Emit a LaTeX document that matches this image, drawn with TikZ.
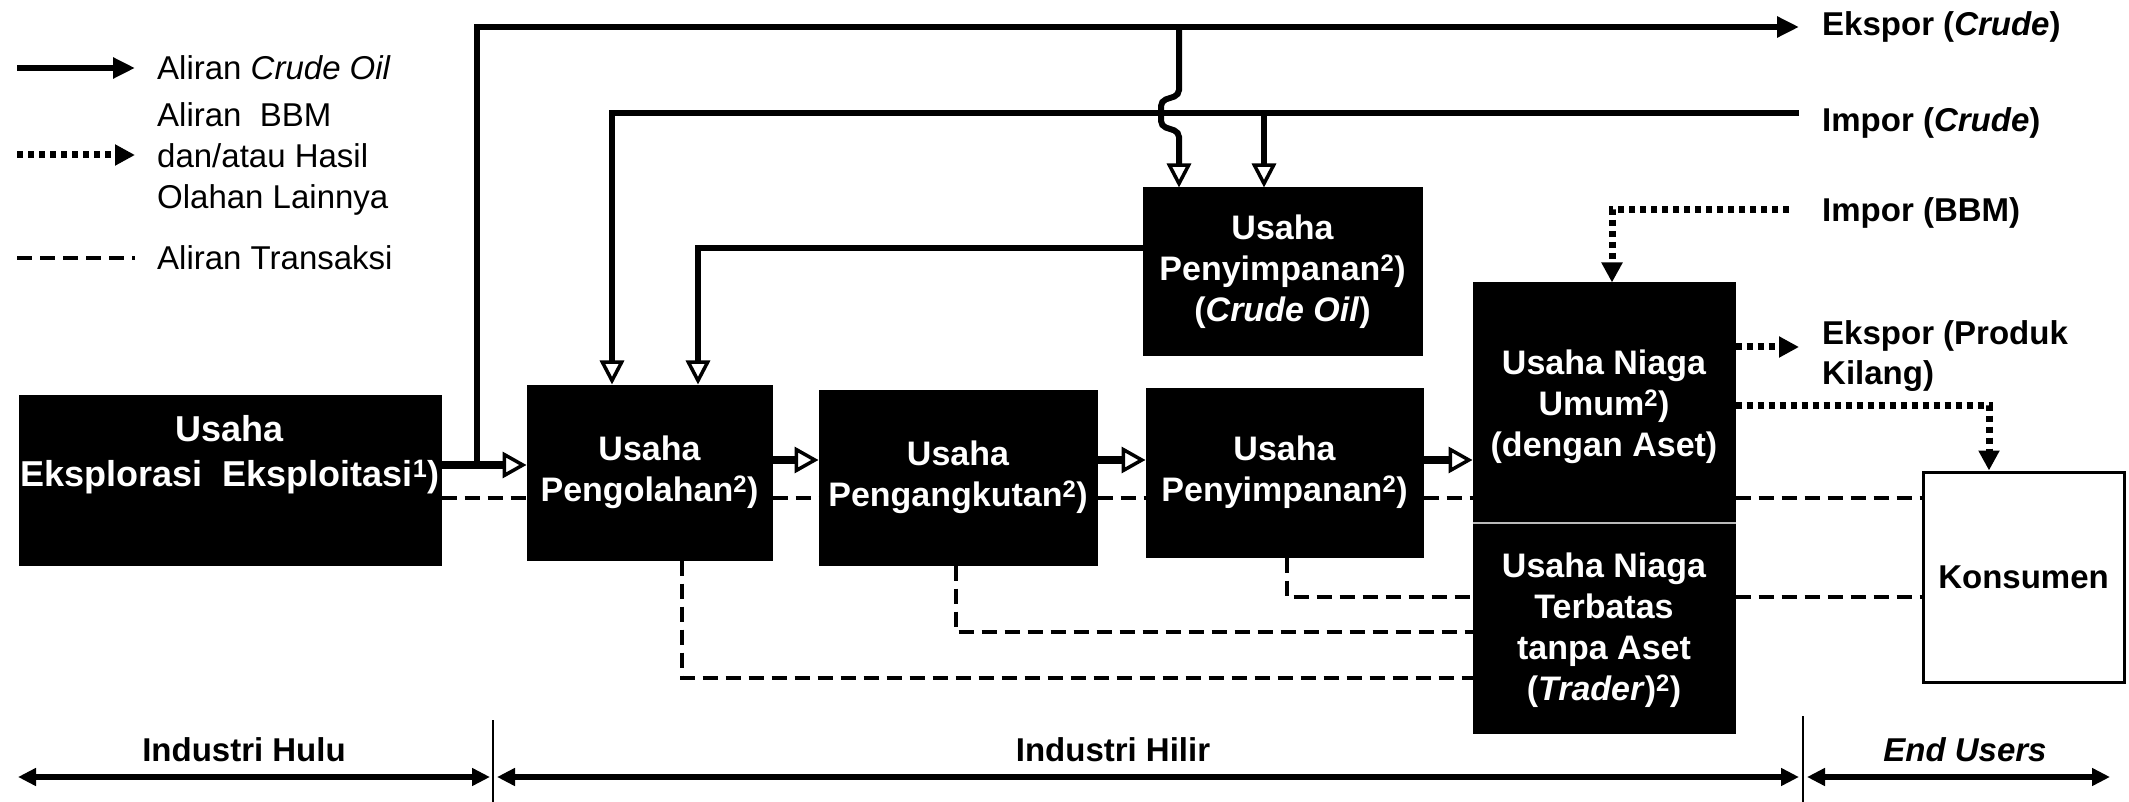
\documentclass[tikz,border=0pt]{standalone}
\usepackage{fontspec}
\setmainfont{Liberation Sans}
\usetikzlibrary{arrows.meta,calc}
\begin{document}
\begin{tikzpicture}[x=1pt,y=-1pt,
  box/.style={draw=black,fill=black,text=white,font=\bfseries\fontsize{34}{41}\selectfont,align=center,inner sep=0pt,line width=1pt},
  boxtext/.style={text=white,font=\bfseries\fontsize{34}{41}\selectfont,align=center,inner sep=0pt},
  lbl/.style={font=\bfseries\fontsize{33}{40}\selectfont,inner sep=0pt,anchor=west,align=left},
  leg/.style={font=\fontsize{33}{41}\selectfont,inner sep=0pt,anchor=west,align=left},
  crude/.style={line width=6pt,-{Triangle[open,length=24pt,width=24pt,line width=3.5pt]}},
  crudefat/.style={line width=8pt,-{Triangle[open,length=24pt,width=26pt,line width=3.5pt]}},
  crudefill/.style={line width=6pt,-{Triangle[length=22pt,width=20pt]}},
  bbm/.style={line width=7pt,dash pattern=on 6pt off 5pt,-{Triangle[length=20pt,width=20pt]}},
  trans/.style={line width=3.5pt,dash pattern=on 15pt off 8pt},
  axis/.style={line width=6pt,{Triangle[length=18pt,width=17pt]}-{Triangle[length=18pt,width=17pt]}},
  divider/.style={line width=2pt}
]
\useasboundingbox (0,0) rectangle (2129,802);

% ---------- legend ----------
\coordinate (lg1a) at (17,68);  \coordinate (lg1b) at (135,68);
\coordinate (lg2a) at (17,155); \coordinate (lg2b) at (135,155);
\coordinate (lg3a) at (17,258); \coordinate (lg3b) at (135,258);
\draw[crudefill] (lg1a) -- (lg1b);
\draw[bbm] (lg2a) -- (lg2b);
\draw[trans] (lg3a) -- (lg3b);
\node[leg] (lgt1) at (157,68) {Aliran \textit{Crude Oil}};
\node[leg] (lgt2) at (157,159) {Aliran\ \ BBM\\dan/atau Hasil\\Olahan Lainnya};
\node[leg] (lgt3) at (157,258) {Aliran Transaksi};

% ---------- boxes ----------
\node[box,minimum width=422pt,minimum height=170pt] (b1) at (230,480) {};
\node[boxtext,font=\bfseries\fontsize{36}{45}\selectfont] (b1t) at (230,455) {Usaha\\Eksplorasi\ \ Eksploitasi\textsuperscript{1})};
\node[box,minimum width=245pt,minimum height=175pt] (pgl) at (649.5,472.5) {Usaha\\Pengolahan\textsuperscript{2})};
\node[box,minimum width=278pt,minimum height=175pt] (pgk) at (958,477.5) {Usaha\\Pengangkutan\textsuperscript{2})};
\node[box,minimum width=277pt,minimum height=169pt] (psn) at (1284.5,472.5) {Usaha\\Penyimpanan\textsuperscript{2})};
\node[box,minimum width=279pt,minimum height=168pt] (psc) at (1282.5,272) {Usaha\\Penyimpanan\textsuperscript{2})\\(\textit{Crude Oil})};
\node[box,minimum width=262pt,minimum height=450pt] (nia) at (1604,508) {};
\coordinate (sep) at (0,523);
\draw[gray!55,line width=1.5pt] (nia.west |- sep) -- (nia.east |- sep);
\node[boxtext] (niat) at (1604,407) {Usaha Niaga\\Umum\textsuperscript{2})\\(dengan Aset)};
\node[boxtext] (niab) at (1604,630) {Usaha Niaga\\Terbatas\\tanpa Aset\\(\textit{Trader})\textsuperscript{2})};
\node[draw=black,fill=white,line width=3pt,minimum width=201pt,minimum height=210pt,font=\bfseries\fontsize{33}{40}\selectfont,inner sep=0pt] (kon) at (2023.5,577) {Konsumen};

% ---------- right labels ----------
\node[lbl] (lEC) at (1822,27) {Ekspor (\textit{Crude})};
\node[lbl] (lIC) at (1822,123) {Impor (\textit{Crude})};
\node[lbl] (lIB) at (1822,213) {Impor (BBM)};
\node[lbl] (lEP) at (1822,356) {Ekspor (Produk\\Kilang)};

% ---------- crude oil flows ----------
\coordinate (j1) at (477,465);
\coordinate (topR) at (1799,27);
\draw[crudefat] (b1.east |- j1) -- (pgl.west |- j1);
\draw[crudefill] (j1) |- (topR);
\coordinate (bx) at (1179,27);
\draw[crude,rounded corners=5pt] (bx) -- (1179,95) -- (1161,101) -- (1161,126) -- (1179,132) -- (psc.north -| bx);
\coordinate (impR) at (1799,113);
\coordinate (impL) at (612,113);
\coordinate (impB) at (1264,113);
\draw[crude] (impR) -- (impL) -- (impL |- pgl.north);
\draw[crude] (impB) -- (impB |- psc.north);
\coordinate (pscL) at (698,248);
\draw[crude] (psc.west |- pscL) -- (pscL) -- (pscL |- pgl.north);
\coordinate (ar) at (0,460);
\draw[crudefat] (pgl.east |- ar) -- (pgk.west |- ar);
\draw[crudefat] (pgk.east |- ar) -- (psn.west |- ar);
\draw[crudefat] (psn.east |- ar) -- (nia.west |- ar);

% ---------- BBM flows ----------
\coordinate (ibR) at (1789,210);
\coordinate (ibC) at (1612,210);
\draw[bbm] (ibR) -- (ibC) -- (ibC |- nia.north);
\coordinate (epR) at (1799,347);
\draw[bbm] (nia.east |- epR) -- (epR);
\coordinate (kC) at (1989,405);
\draw[bbm] (nia.east |- kC) -- (kC) -- (kC |- kon.north);

% ---------- transaction flows ----------
\coordinate (d1) at (0,498);
\draw[trans] (b1.east |- d1) -- (pgl.west |- d1);
\draw[trans] (pgl.east |- d1) -- (pgk.west |- d1);
\draw[trans] (pgk.east |- d1) -- (psn.west |- d1);
\draw[trans] (psn.east |- d1) -- (nia.west |- d1);
\draw[trans] (nia.east |- d1) -- (kon.west |- d1);
\coordinate (d2) at (1287,597);
\draw[trans] (d2 |- psn.south) -- (d2) -- (nia.west |- d2);
\draw[trans] (nia.east |- d2) -- (kon.west |- d2);
\coordinate (d3) at (956,632);
\draw[trans] (d3 |- pgk.south) -- (d3) -- (nia.west |- d3);
\coordinate (d4) at (682,678);
\draw[trans] (d4 |- pgl.south) -- (d4) -- (nia.west |- d4);

% ---------- bottom axis ----------
\coordinate (ax0) at (18,777);  \coordinate (ax1) at (490,777);
\coordinate (ax2) at (497,777); \coordinate (ax3) at (1799,777);
\coordinate (ax4) at (1807,777); \coordinate (ax5) at (2110,777);
\draw[axis] (ax0) -- (ax1);
\draw[axis] (ax2) -- (ax3);
\draw[axis] (ax4) -- (ax5);
\coordinate (dv1t) at (493,720); \coordinate (dv1b) at (493,802);
\coordinate (dv2t) at (1803,716); \coordinate (dv2b) at (1803,802);
\draw[divider] (dv1t) -- (dv1b);
\draw[divider] (dv2t) -- (dv2b);
\node[lbl,anchor=center] (ihu) at (244,750) {Industri Hulu};
\node[lbl,anchor=center] (ihi) at (1113,750) {Industri Hilir};
\node[lbl,anchor=center] (eus) at (1965,750) {\textit{End Users}};
\end{tikzpicture}
\end{document}
